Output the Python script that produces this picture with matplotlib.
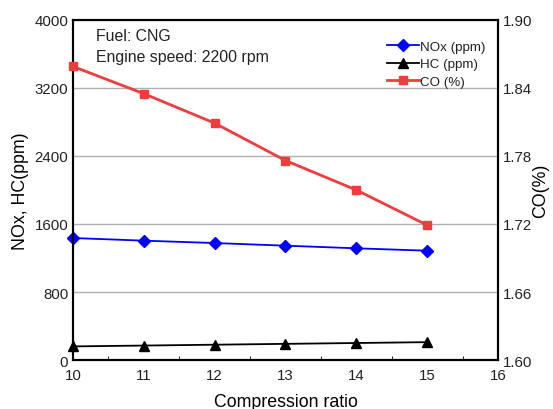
import matplotlib
matplotlib.use('Agg')
import matplotlib.pyplot as plt
from matplotlib.ticker import MultipleLocator

plt.rcParams['font.family'] = ['Liberation Sans', 'DejaVu Sans']
plt.rcParams['text.color'] = '#222222'

# Data
compression_ratio = [10, 11, 12, 13, 14, 15]
nox_ppm = [1435, 1404, 1376, 1345, 1314, 1286]
hc_ppm = [160, 170, 180, 190, 200, 210]
co_pct = [1.859, 1.835, 1.809, 1.776, 1.750, 1.719]

fig = plt.figure(figsize=(5.53, 4.10), dpi=100)
ax = fig.add_axes([0.132, 0.1195, 0.7685, 0.8293])
ax2 = ax.twinx()

l1, = ax.plot(compression_ratio, nox_ppm, '-D', color='#0000ff', lw=1.3, ms=6,
              label='NOx (ppm)', clip_on=False, zorder=3)
l2, = ax.plot(compression_ratio, hc_ppm, '-^', color='black', lw=1.3, ms=7,
              label='HC (ppm)', clip_on=False, zorder=3)
l3, = ax2.plot(compression_ratio, co_pct, '-s', color='#f03c3c', lw=2, ms=6,
               label='CO (%)', clip_on=False, zorder=3)

ax.set_xlim(10, 16)
ax.set_ylim(0, 4000)
ax2.set_ylim(1.60, 1.90)
ax.set_yticks(range(0, 4001, 800))
ax2.set_yticks([1.60, 1.66, 1.72, 1.78, 1.84, 1.90])
ax2.set_yticklabels(['1.60', '1.66', '1.72', '1.78', '1.84', '1.90'])
ax.xaxis.set_minor_locator(MultipleLocator(0.5))
ax.grid(axis='y', color='#b0b0b0', lw=1)
ax.set_axisbelow(True)

ax.tick_params(axis='both', which='both', direction='in', labelsize=10.8,
               labelcolor='#222222')
ax.tick_params(axis='y', which='both', length=0)
ax.tick_params(axis='x', which='major', length=0, pad=6)
ax.tick_params(axis='x', which='minor', length=3)
ax2.tick_params(axis='y', direction='in', length=0, labelsize=10.8,
                labelcolor='#222222')
for a in (ax, ax2):
    for s in a.spines.values():
        s.set_linewidth(1.5)

ax.set_xlabel('Compression ratio', fontsize=12.8, labelpad=8)
ax.set_ylabel('NOx, HC(ppm)', fontsize=12.8)
ax2.set_ylabel('CO(%)', fontsize=12.8, labelpad=0)

ax.text(0.055, 0.975, 'Fuel: CNG\nEngine speed: 2200 rpm', transform=ax.transAxes,
        fontsize=11.4, va='top', ha='left', linespacing=1.45)

ax2.legend(handles=[l1, l2, l3], loc='upper right', frameon=False, fontsize=9.6,
           handlelength=2.4, handletextpad=0.1, labelspacing=0.38,
           bbox_to_anchor=(1.0, 0.975))

fig.savefig('out.png', dpi=100)
